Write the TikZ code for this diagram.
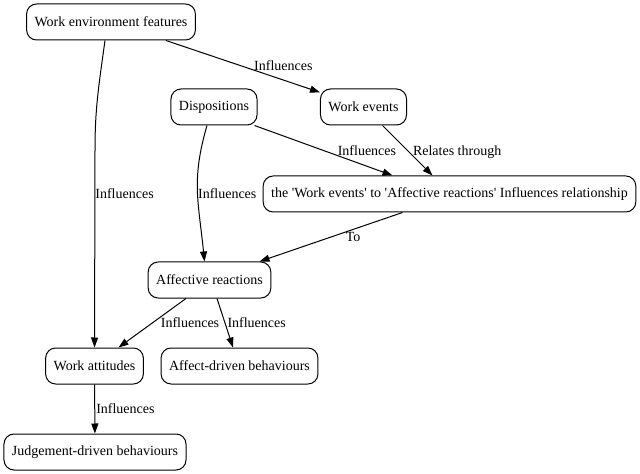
\documentclass[tikz,border=0pt]{standalone}
\usepackage{fontspec}
\setmainfont{Liberation Serif}
\usetikzlibrary{arrows.meta,calc}
\tikzset{
  box/.style        = {draw, line width=1bp, rounded corners=10bp, minimum height=36bp,
                       inner xsep=8bp, inner ysep=2pt, align=center},
  edge/.style       = {-{Triangle[length=10bp, width=7bp]}, line width=1bp},
  every node/.style = {font=\fontsize{14bp}{16bp}\selectfont},
  lbl/.style        = {inner sep=0pt},
}
\newcommand{\q}{\textquotesingle}
\begin{document}
\begin{tikzpicture}[x=1bp,y=-1bp]
  \useasboundingbox (0,0) rectangle (640,474);
  % nodes, graphviz-like layout
  \node[box] (wef)  at (111,22)    {Work environment features};
  \node[box] (disp) at (214,107)   {Dispositions};
  \node[box] (wev)  at (363.5,107) {Work events};
  \node[box] (rel)  at (449.5,194) {the \q Work events\q{} to \q Affective reactions\q{} Influences relationship};
  \node[box] (ar)   at (209.5,280) {Affective reactions};
  \node[box] (wa)   at (94.5,366)  {Work attitudes};
  \node[box] (ad)   at (239.5,366) {Affect-driven behaviours};
  \node[box] (jd)   at (95,452)    {Judgement-driven behaviours};
  % top part
  \draw[edge] (wef) -- (wev) node[pos=0.57, anchor=base west, lbl] {Influences};
  \draw[edge] ([xshift=-6bp]wef.south) .. controls +(-7,50) and +(0,-40) .. ++(-10,110)
    -- node[pos=0.22, anchor=west, lbl] {Influences} (wa);
  \draw[edge] ([xshift=-7bp]disp.south) .. controls +(-16,55) and +(-6,-60) .. ([xshift=-5bp]ar.north)
    node[pos=0.52, anchor=west, lbl] {Influences};
  \draw[edge] ([xshift=-3bp]disp.south east) -- ([xshift=-57bp]rel.north)
    node[pos=0.6, anchor=base west, lbl] {Influences};
  \draw[edge] ([xshift=19bp]wev.south) -- ([xshift=-17bp]rel.north)
    node[pos=0.5, anchor=west, lbl, xshift=5bp, yshift=-2bp] {Relates through};
  \draw[edge] ([xshift=-47bp]rel.south) -- ([xshift=50bp]ar.north)
    node[pos=0.4, anchor=north west, lbl] {To};
  % lower part
  \draw[edge] ([xshift=-23.5bp]ar.south) -- ([xshift=24bp]wa.north)
    node[pos=0.38, anchor=north west, lbl] {Influences};
  \draw[edge] ([xshift=7.5bp]ar.south) -- ([xshift=-6.5bp]ad.north)
    node[pos=0.5, anchor=west, lbl, xshift=2bp] {Influences};
  \draw[edge] (wa) -- (jd) node[pos=0.5, anchor=west, lbl, xshift=1bp] {Influences};
\end{tikzpicture}
\end{document}
